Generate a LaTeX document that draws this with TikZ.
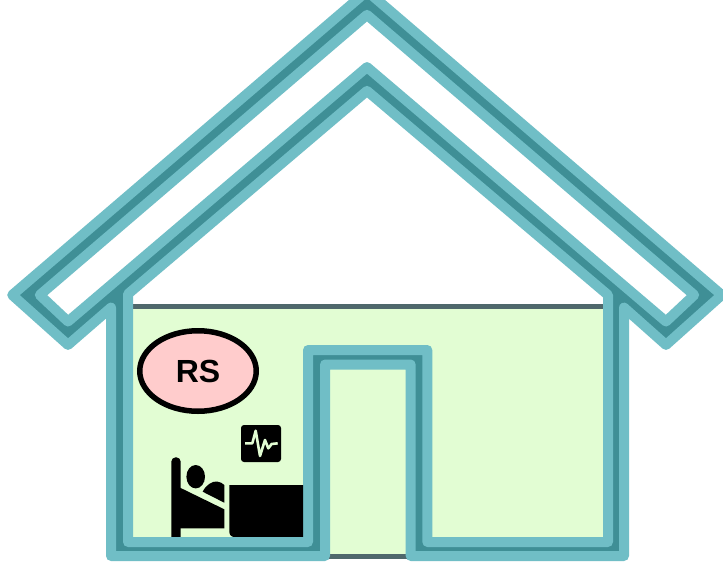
\documentclass[tikz,border=0pt]{standalone}
\usepackage{fontspec}
\setmainfont{Liberation Sans}
\usetikzlibrary{shapes.geometric}
\definecolor{bandlight}{HTML}{70BEC6}
\definecolor{banddark}{HTML}{3F8F96}
\definecolor{roomgreen}{HTML}{E2FDD3}
\definecolor{floorgrey}{HTML}{4F686C}
\definecolor{rspink}{HTML}{FFCCCC}
\tikzset{
  lightband/.style={draw=bandlight,line width=10pt,line join=round},
  darkband/.style={draw=banddark,line width=14pt,line join=miter,miter limit=10},
  floorline/.style={draw=floorgrey,line width=5pt},
  rsnode/.style={ellipse,draw=black,line width=5.5pt,fill=rspink,minimum width=116.5pt,minimum height=80.5pt,inner sep=0pt,font=\fontsize{32}{34}\selectfont\bfseries},
}
\begin{document}
\begin{tikzpicture}[x=1pt,y=-1pt]
\useasboundingbox (0,0) rectangle (723,562);
\clip (0,0) rectangle (723,562);
\fill[white] (0,0) rectangle (723,562);
% room and door floor
\fill[roomgreen] (125,306) rectangle (610,545);
\fill[roomgreen] (325,360) rectangle (410,554);
\draw[floorline] (125,306.5) -- (610,306.5);
\draw[floorline] (325,556.5) -- (410,556.5);
% dark core
\draw[darkband] (367,3) -- (26,295) -- (68,333) -- (119.5,289.4) -- (119.5,549.5) -- (316.5,549.5) -- (316.5,357) -- (419,357) -- (419,549.5) -- (615,549.5) -- (615,290) -- (666,333) -- (708,295) -- cycle;
\draw[darkband] (119.5,289.4) -- (367,79) -- (615,290);
% light bands
\draw[lightband] (367,-8.9) -- (12.2,295) -- (68,344.9) -- (111,307.6) -- (111,556) -- (325,556) -- (325,364.5) -- (410.7,364.5) -- (410.7,556) -- (624,556) -- (624,307.6) -- (666,344.9) -- (721.8,295) -- cycle;
\draw[lightband] (367,14.9) -- (39.8,295) -- (68,321.5) -- (367,67.1) -- (666,321.5) -- (694.2,295) -- cycle;
\draw[lightband] (367,90.9) -- (128,294) -- (128,542) -- (308,542) -- (308,350) -- (427.3,350) -- (427.3,542) -- (608,542) -- (608,295) -- cycle;
% RS
\node[rsnode] (rs) at (198,371) {RS};
% monitor
\fill[black,rounded corners=3pt] (241,425) rectangle (281,462);
\draw[roomgreen,line width=2.6pt,line join=round] (245,443.3) -- (252.3,443.3) -- (255.7,430.7) -- (260,456) -- (265,440) -- (268.3,448.3) -- (271.7,444) -- (277.7,443.3);
% bed
\fill[black,rounded corners=4.4pt] (171.3,545) -- (171.3,457.3) -- (180.7,457.3) -- (180.7,545) -- cycle;
\fill[black] (178,486.7) -- (180.7,488) -- (224.3,509.3) -- (224.3,528.3) -- (178,528.3) -- cycle;
\fill[black] (202.7,491.7) .. controls (206,485) and (212,481) .. (217,481.5) .. controls (220,482) and (222.5,483) .. (224.3,485) -- (224.3,502.7) -- cycle;
\fill[black] (195.7,476.7) ellipse [x radius=9.3pt,y radius=11.7pt];
% table
\fill[black] (229.3,485) -- (303,485) -- (303,537) -- (235,537) .. controls (231,537) and (229.3,535) .. (229.3,531) -- cycle;
% re-cover floor below bed foot
\draw[draw=bandlight,line width=10pt,line join=round] (128,542) -- (308,542);
\end{tikzpicture}
\end{document}
